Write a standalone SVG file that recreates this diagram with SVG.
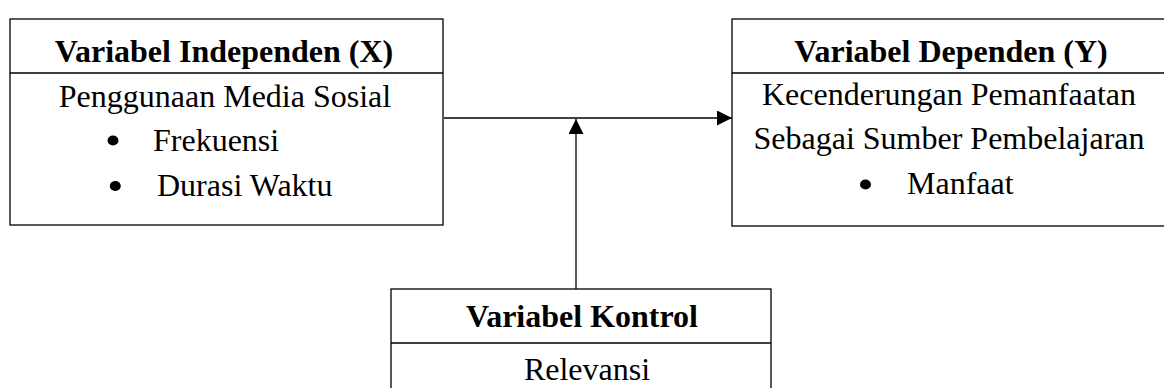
<svg xmlns="http://www.w3.org/2000/svg" width="1164" height="388" viewBox="0 0 1164 388">
<defs>
<style>
.box{fill:#fff;stroke:#000;stroke-width:1.3}
.ln{stroke:#000;stroke-width:1.3;fill:none}
.t{font-family:"Liberation Serif","Times New Roman",serif;font-size:32px;fill:#000}
.b{font-weight:bold}
.m{text-anchor:middle}
</style>
<marker id="ah" viewBox="0 0 10 10" refX="10" refY="5" markerWidth="15" markerHeight="15" markerUnits="userSpaceOnUse" orient="auto">
<path d="M0,0 L10,5 L0,10 Z" fill="#000"/>
</marker>
</defs>
<rect width="1164" height="388" fill="#fff"/>
<g id="connectors">
<line class="ln" x1="444" y1="118" x2="732" y2="118" marker-end="url(#ah)"/>
<line class="ln" x1="576" y1="289" x2="576" y2="119" marker-end="url(#ah)"/>
</g>
<g id="node-independen">
<rect class="box" x="10" y="19" width="433" height="206"/>
<line class="ln" x1="10" y1="73" x2="443" y2="73"/>
<text class="t b m" x="224" y="62">Variabel Independen (X)</text>
<text class="t m" x="225" y="107">Penggunaan Media Sosial</text>
<ellipse cx="113" cy="140.5" rx="5.5" ry="5"/>
<text class="t" x="153" y="151">Frekuensi</text>
<ellipse cx="115.3" cy="186" rx="5.5" ry="5"/>
<text class="t" x="157" y="196">Durasi Waktu</text>
</g>
<g id="node-dependen">
<rect class="box" x="732" y="19" width="440" height="207"/>
<line class="ln" x1="732" y1="73" x2="1164" y2="73"/>
<text class="t b m" x="951" y="62">Variabel Dependen (Y)</text>
<text class="t m" x="949" y="105">Kecenderungan Pemanfaatan</text>
<text class="t m" x="949" y="149">Sebagai Sumber Pembelajaran</text>
<ellipse cx="865.5" cy="184.5" rx="5.5" ry="5"/>
<text class="t" x="907" y="194">Manfaat</text>
</g>
<g id="node-kontrol">
<rect class="box" x="391" y="289" width="380" height="110"/>
<line class="ln" x1="391" y1="343" x2="771" y2="343"/>
<text class="t b m" x="582" y="327">Variabel Kontrol</text>
<text class="t m" x="587" y="380">Relevansi</text>
</g>
</svg>
